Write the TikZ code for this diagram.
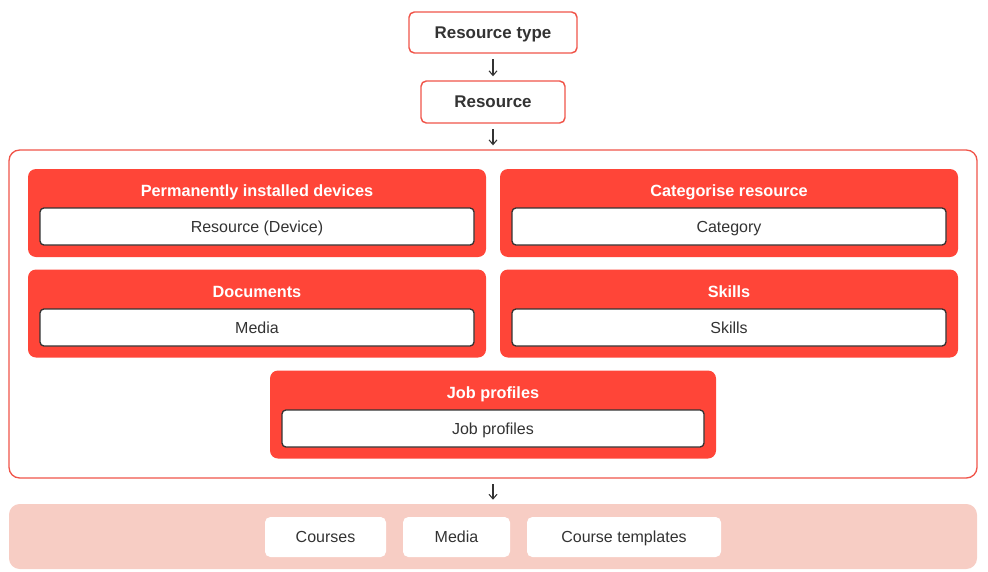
\documentclass[tikz,border=0pt]{standalone}
\usepackage{fontspec}
\setmainfont{Liberation Sans}
\usepackage{tikz}
\usetikzlibrary{arrows.meta,positioning}
\definecolor{hrred}{RGB}{255,69,56}
\definecolor{hredge}{RGB}{240,85,74}
\definecolor{hrpink}{RGB}{247,205,196}
\definecolor{hrtext}{RGB}{51,51,51}

\begin{document}
\begin{tikzpicture}[x=0.75pt,y=-0.75pt,
    every node/.style={text height=2.05ex,text depth=0.35ex},
    topbox/.style={draw=hredge,line width=1.1pt,fill=white,rounded corners=4pt,
        text=hrtext,font=\fontsize{12.7}{15}\selectfont\bfseries},
    panel/.style={fill=hrred,rounded corners=6pt,minimum height=66pt},
    paneltitle/.style={text=white,font=\fontsize{12.2}{15}\selectfont\bfseries},
    entry/.style={draw=hrtext,line width=1pt,fill=white,rounded corners=3pt,
        minimum height=27.75pt,text=hrtext,font=\fontsize{12}{15}\selectfont},
    target/.style={fill=white,rounded corners=4pt,minimum height=30pt,
        text=hrtext,font=\fontsize{12}{15}\selectfont},
    flow/.style={-{Straight Barb[length=3.5pt,width=6pt]},line width=0.8pt,hrtext,
        shorten <=4pt,shorten >=3pt}]
  \useasboundingbox (0,0) rectangle (988,571);
  % Top chain
  \node[topbox,minimum width=126pt,minimum height=30.75pt] (rtype) at (493,32.5) {Resource type};
  \node[topbox,minimum width=108pt,minimum height=31.5pt] (res) at (493,102) {Resource};
  % Outer frame
  \node[draw=hredge,line width=1pt,rounded corners=8pt,
        minimum width=726pt,minimum height=246pt] (frame) at (493,314) {};
  % Panels
  \node[panel,minimum width=343.5pt] (devp) at (257,213) {};
  \node[paneltitle] at (257,191) {Permanently installed devices};
  \node[entry,minimum width=325.5pt] (dev) at (257,226.5) {Resource (Device)};
  \node[panel,minimum width=343.5pt] (catp) at (729,213) {};
  \node[paneltitle] at (729,191) {Categorise resource};
  \node[entry,minimum width=325.5pt] (cat) at (729,226.5) {Category};
  \node[panel,minimum width=343.5pt] (docp) at (257,313.5) {};
  \node[paneltitle] at (257,292) {Documents};
  \node[entry,minimum width=325.5pt] (doc) at (257,327.5) {Media};
  \node[panel,minimum width=343.5pt] (sklp) at (729,313.5) {};
  \node[paneltitle] at (729,292) {Skills};
  \node[entry,minimum width=325.5pt] (skl) at (729,327.5) {Skills};
  \node[panel,minimum width=334.5pt] (jobp) at (493,414.5) {};
  \node[paneltitle] at (493,393) {Job profiles};
  \node[entry,minimum width=316.5pt] (job) at (493,428.5) {Job profiles};
  % Bottom band
  \node[fill=hrpink,rounded corners=8pt,minimum width=726pt,minimum height=48.75pt]
        (band) at (493,536.5) {};
  \node[target,minimum width=90.75pt] (crs) at (325.5,537) {Courses};
  \node[target,minimum width=80.25pt] (med) at (456.5,537) {Media};
  \node[target,minimum width=145.5pt] (tpl) at (624,537) {Course templates};
  % Arrows
  \draw[flow] (rtype) -- (res);
  \draw[flow] (res) -- (frame);
  \draw[flow] (frame) -- (band);
\end{tikzpicture}
\end{document}
